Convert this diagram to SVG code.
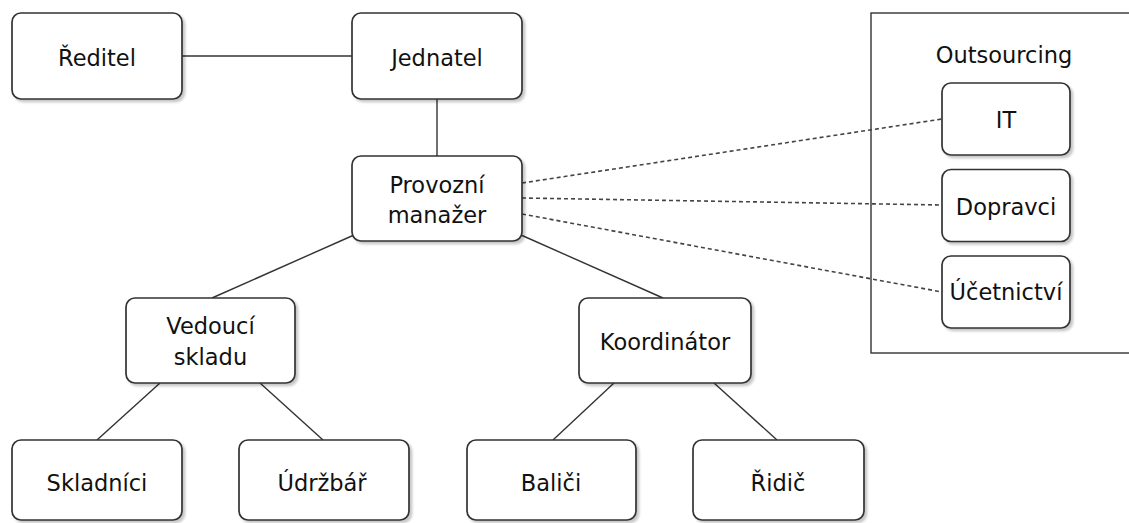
<svg xmlns="http://www.w3.org/2000/svg" width="1129" height="523" viewBox="0 0 1129 523">
  <defs>
    <filter id="shadow" x="-10%" y="-10%" width="130%" height="130%">
      <feDropShadow dx="2.5" dy="2.5" stdDeviation="1.2" flood-color="#000" flood-opacity="0.22"/>
    </filter>
  </defs>
  <style>
    .box { fill: #fff; stroke: #333; stroke-width: 1.7; filter: url(#shadow); }
    .frame { fill: #fff; stroke: #333; stroke-width: 1.4; }
    .link { stroke: #333; stroke-width: 1.4; fill: none; }
    .dash { stroke: #444; stroke-width: 1.6; fill: none; stroke-dasharray: 4 3; }
    text { font-family: "DejaVu Sans", Verdana, sans-serif; font-size: 22.5px; fill: #111; text-anchor: middle; }
  </style>

  <!-- outsourcing container -->
  <g id="outsourcing">
    <rect class="frame" x="871" y="13" width="280" height="340"/>
    <text x="1004" y="63">Outsourcing</text>
  </g>

  <!-- connectors -->
  <g id="connectors">
    <line class="link" x1="182" y1="56" x2="352" y2="56"/>
    <line class="link" x1="437" y1="99" x2="437" y2="156"/>
    <line class="link" x1="354" y1="235" x2="212" y2="298"/>
    <line class="link" x1="521" y1="235" x2="663" y2="298"/>
    <line class="link" x1="160" y1="383" x2="97" y2="440"/>
    <line class="link" x1="260" y1="383" x2="323" y2="440"/>
    <line class="link" x1="614" y1="383" x2="553" y2="440"/>
    <line class="link" x1="714" y1="383" x2="777" y2="440"/>
    <line class="dash" x1="522" y1="183" x2="942" y2="119"/>
    <line class="dash" x1="522" y1="198" x2="942" y2="205"/>
    <line class="dash" x1="522" y1="214" x2="942" y2="292"/>
  </g>

  <g id="reditel">
    <rect class="box" x="12" y="13" width="170" height="86" rx="9"/>
    <text x="97" y="66">Ředitel</text>
  </g>
  <g id="jednatel">
    <rect class="box" x="352" y="13" width="170" height="86" rx="9"/>
    <text x="437" y="66">Jednatel</text>
  </g>
  <g id="provozni-manazer">
    <rect class="box" x="352" y="156" width="170" height="85" rx="9"/>
    <text x="437" y="193">Provozní</text>
    <text x="437" y="223">manažer</text>
  </g>
  <g id="vedouci-skladu">
    <rect class="box" x="126" y="298" width="169" height="85" rx="9"/>
    <text x="210.5" y="334">Vedoucí</text>
    <text x="210.5" y="365">skladu</text>
  </g>
  <g id="koordinator">
    <rect class="box" x="579" y="298" width="172" height="85" rx="9"/>
    <text x="665" y="350">Koordinátor</text>
  </g>
  <g id="skladnici">
    <rect class="box" x="12" y="440" width="170" height="80" rx="9"/>
    <text x="97" y="491">Skladníci</text>
  </g>
  <g id="udrzbar">
    <rect class="box" x="239" y="440" width="170" height="80" rx="9"/>
    <text x="322" y="491">Údržbář</text>
  </g>
  <g id="balici">
    <rect class="box" x="467" y="440" width="169" height="80" rx="9"/>
    <text x="551" y="491">Baliči</text>
  </g>
  <g id="ridic">
    <rect class="box" x="693" y="440" width="171" height="80" rx="9"/>
    <text x="778" y="491">Řidič</text>
  </g>

  <g id="it">
    <rect class="box" x="942" y="83" width="128" height="72" rx="9"/>
    <text x="1006" y="128">IT</text>
  </g>
  <g id="dopravci">
    <rect class="box" x="942" y="169.5" width="128" height="72" rx="9"/>
    <text x="1006" y="215">Dopravci</text>
  </g>
  <g id="ucetnictvi">
    <rect class="box" x="942" y="256" width="128" height="72" rx="9"/>
    <text x="1006" y="300">Účetnictví</text>
  </g>
</svg>
